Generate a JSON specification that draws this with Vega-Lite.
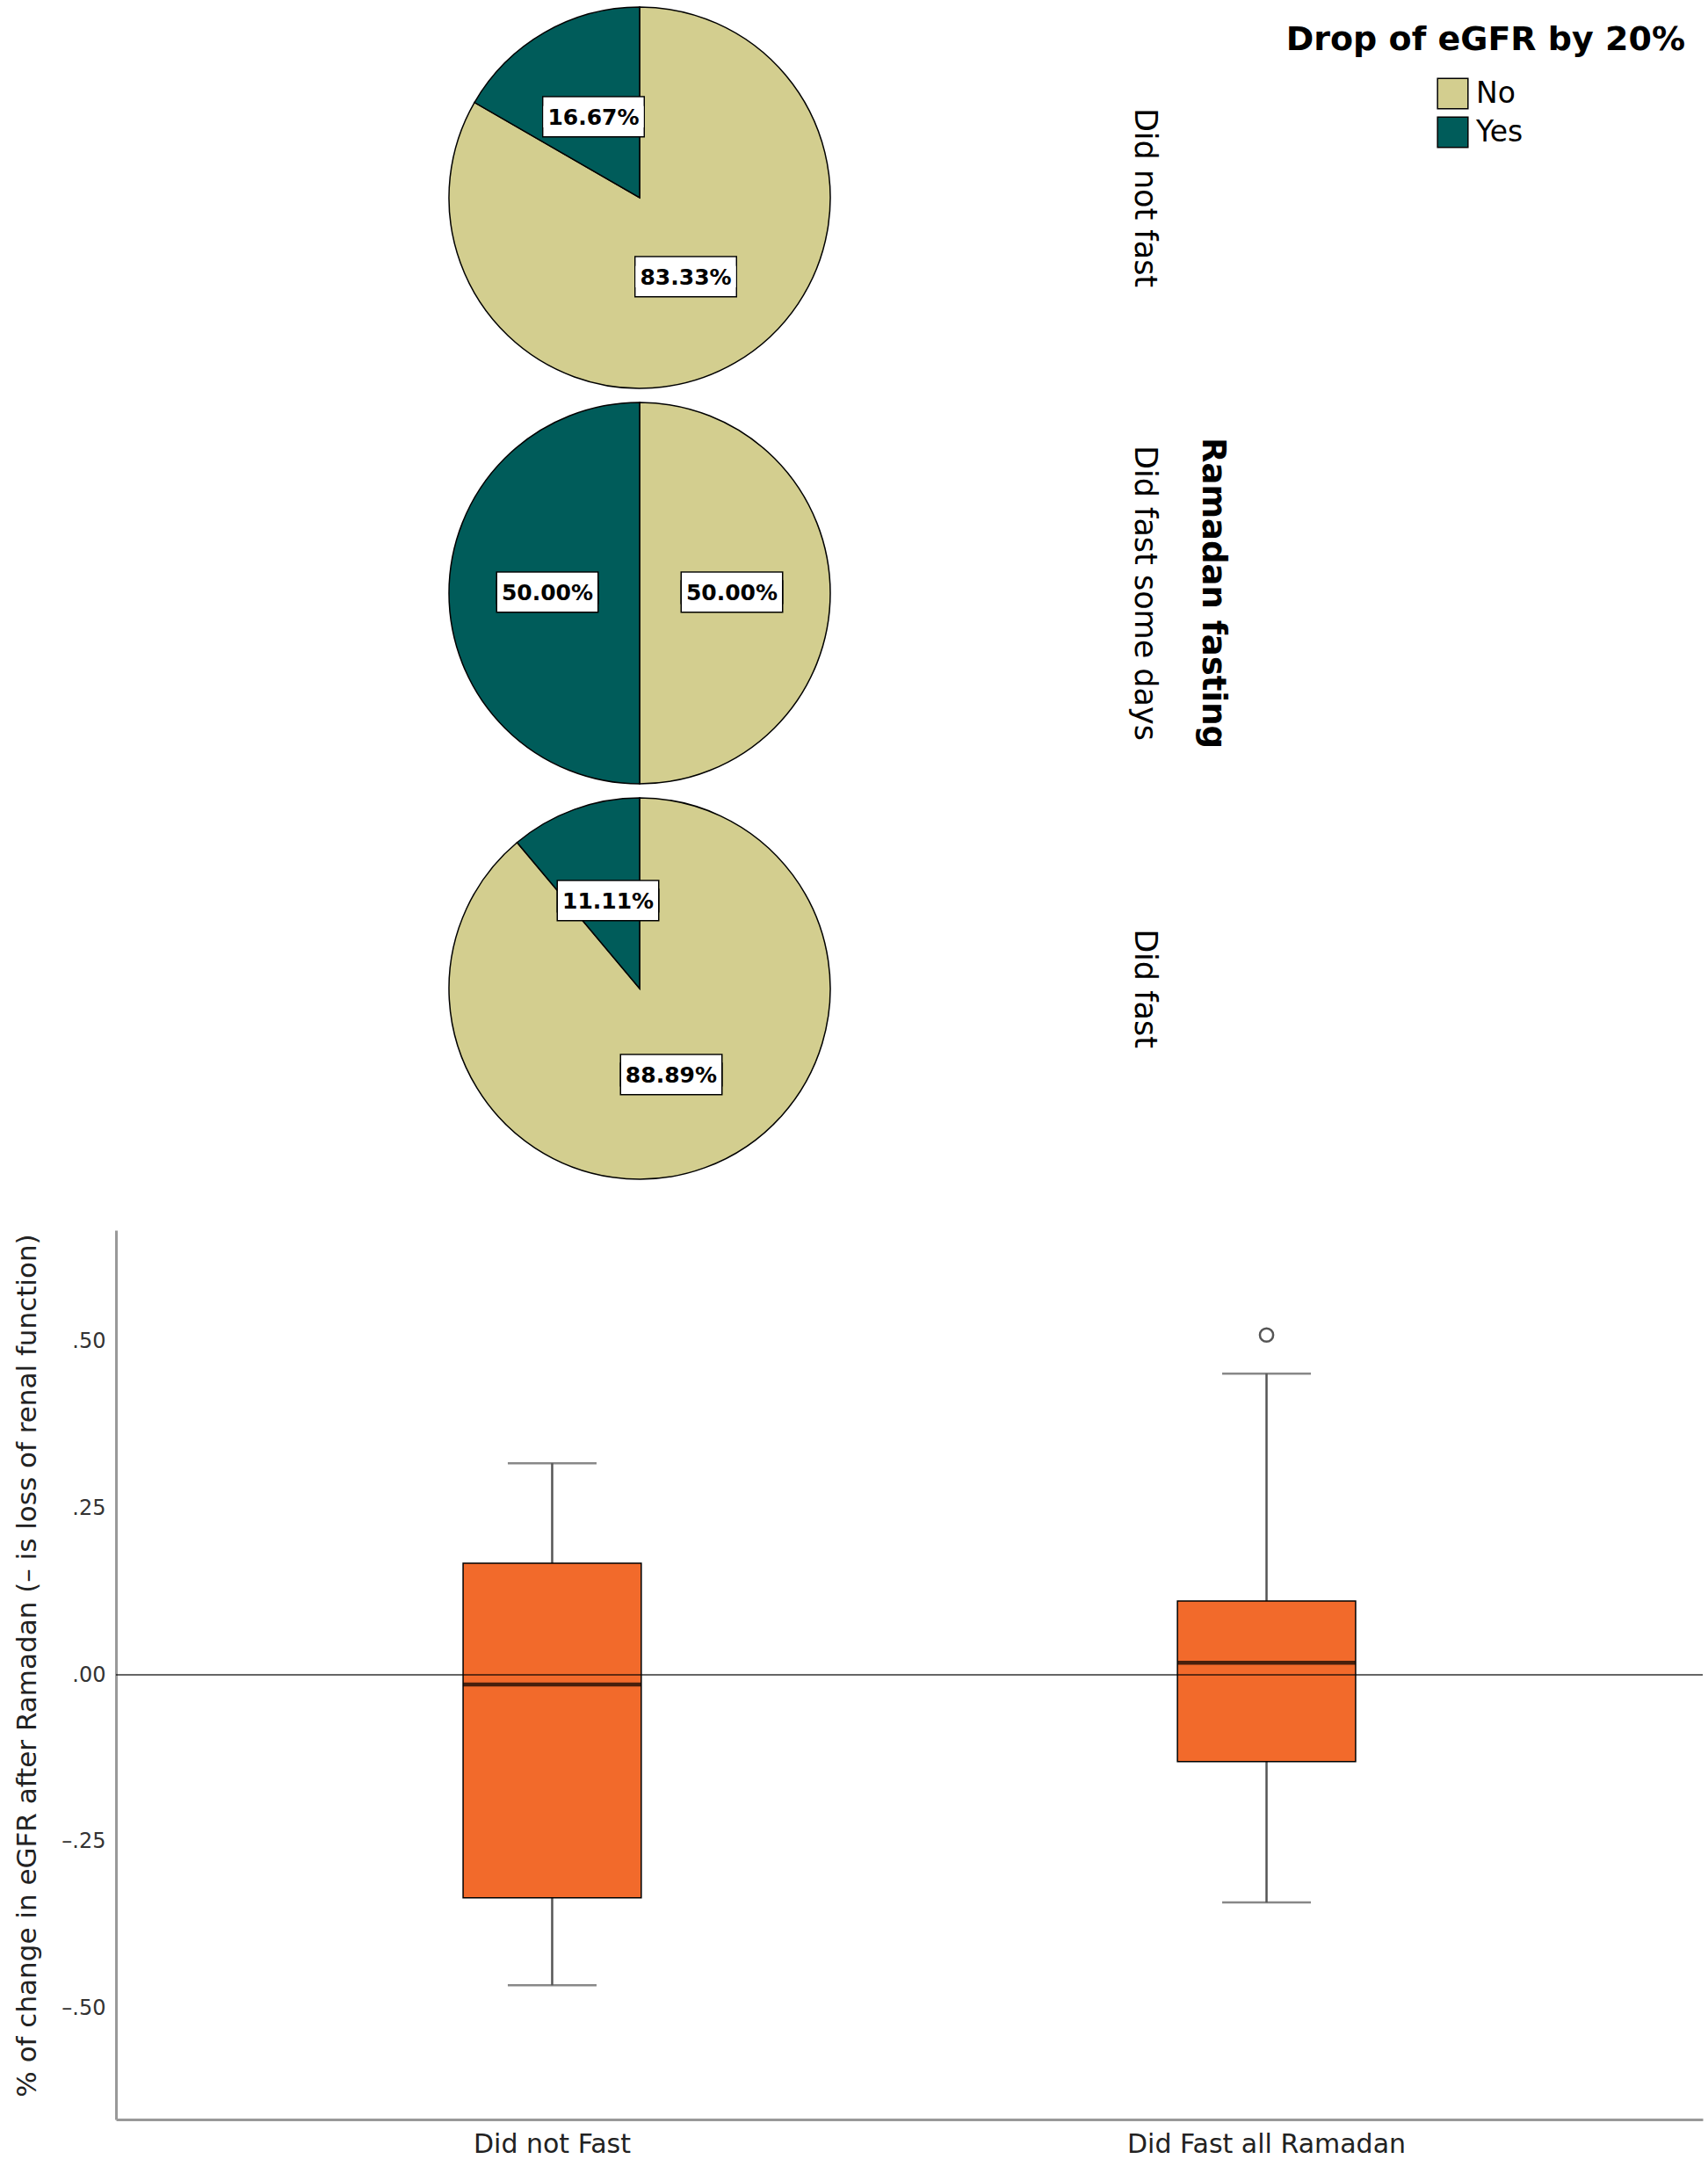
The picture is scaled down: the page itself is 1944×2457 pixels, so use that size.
{
  "$schema": "https://vega.github.io/schema/vega-lite/v6.json",
  "padding": {"left": 15, "top": 0, "right": 0, "bottom": 0},
  "autosize": {"type": "pad"},
  "background": "white",
  "title": {"text": "Drop of eGFR by 20%", "anchor": "end", "orient": "top", "offset": -65, "dx": -21, "font": "DejaVu Sans", "fontSize": 38, "fontWeight": "bold", "color": "black", "baseline": "top"},
  "datasets": {
    "pies": [
      {"fasting": "Did not fast", "drop": "No", "frac": 0.8333},
      {"fasting": "Did not fast", "drop": "Yes", "frac": 0.1667},
      {"fasting": "Did fast some days", "drop": "No", "frac": 0.5},
      {"fasting": "Did fast some days", "drop": "Yes", "frac": 0.5},
      {"fasting": "Did fast", "drop": "No", "frac": 0.8889},
      {"fasting": "Did fast", "drop": "Yes", "frac": 0.1111}
    ],
    "boxes": [
      {"group": "Did not Fast", "lower": -0.465, "q1": -0.334, "median": -0.0145, "q3": 0.167, "upper": 0.317},
      {"group": "Did Fast all Ramadan", "lower": -0.341, "q1": -0.130, "median": 0.018, "q3": 0.1105, "upper": 0.451}
    ],
    "outliers": [
      {"group": "Did Fast all Ramadan", "value": 0.509}
    ]
  },
  "vconcat": [
    {
      "data": {"name": "pies"},
      "facet": {
        "row": {
          "field": "fasting", "type": "nominal",
          "sort": ["Did not fast", "Did fast some days", "Did fast"],
          "title": "Ramadan fasting",
          "header": {
            "labelOrient": "right", "labelAngle": 90, "labelAlign": "center", "labelBaseline": "middle",
            "labelPadding": -56, "labelFont": "DejaVu Sans", "labelFontSize": 35, "labelColor": "black",
            "titleOrient": "right", "titleAngle": 90, "titleAlign": "center", "titleBaseline": "middle",
            "titlePadding": 9, "titleFont": "DejaVu Sans", "titleFontSize": 37, "titleFontWeight": "bold", "titleColor": "black"
          }
        }
      },
      "spacing": {"row": 0},
      "spec": {
        "width": 1192,
        "height": 450,
        "encoding": {
          "theta": {"field": "frac", "type": "quantitative", "stack": true},
          "order": {"field": "drop", "type": "ordinal", "sort": "ascending"}
        },
        "layer": [
          {
            "mark": {"type": "arc", "outerRadius": 217, "stroke": "black", "strokeWidth": 1.5},
            "encoding": {
              "color": {
                "field": "drop", "type": "nominal",
                "scale": {"domain": ["No", "Yes"], "range": ["#D3CE8F", "#005C5A"]},
                "legend": {
                  "title": null, "orient": "none", "legendX": 1503, "legendY": 88,
                  "symbolType": "square", "symbolSize": 1200, "symbolStrokeColor": "black", "symbolStrokeWidth": 1.5,
                  "labelFont": "DejaVu Sans", "labelFontSize": 33, "labelColor": "black", "labelOffset": 8,
                  "rowPadding": 3, "padding": 0
                }
              }
            }
          },
          {
            "mark": {"type": "text", "radius": 105, "text": "▬", "font": "Liberation Sans", "fontSize": 114, "fill": "white", "stroke": "black", "strokeWidth": 3, "align": "center", "baseline": "middle", "dy": -23},
            "encoding": {"detail": {"field": "drop"}}
          },
          {
            "mark": {"type": "text", "radius": 105, "text": "▬", "font": "Liberation Sans", "fontSize": 114, "fill": "white", "stroke": "black", "strokeWidth": 3, "align": "center", "baseline": "middle", "dy": -13},
            "encoding": {"detail": {"field": "drop"}}
          },
          {
            "mark": {"type": "text", "radius": 105, "text": "▬", "font": "Liberation Sans", "fontSize": 114, "fill": "white", "strokeWidth": 0, "align": "center", "baseline": "middle", "dy": -23},
            "encoding": {"detail": {"field": "drop"}}
          },
          {
            "mark": {"type": "text", "radius": 105, "text": "▬", "font": "Liberation Sans", "fontSize": 114, "fill": "white", "strokeWidth": 0, "align": "center", "baseline": "middle", "dy": -13},
            "encoding": {"detail": {"field": "drop"}}
          },
          {
            "mark": {"type": "text", "radius": 105, "font": "DejaVu Sans", "fontSize": 25, "fontWeight": "bold", "color": "black", "align": "center", "baseline": "middle"},
            "encoding": {"text": {"field": "frac", "type": "quantitative", "format": ".2%"}, "detail": {"field": "drop"}}
          }
        ]
      }
    },
    {
      "width": 1806,
      "height": 1012,
      "layer": [
        {
          "data": {"name": "boxes"},
          "mark": {"type": "rule", "color": "#555555", "strokeWidth": 2.5},
          "encoding": {
            "x": {"field": "group", "type": "nominal", "sort": ["Did not Fast", "Did Fast all Ramadan"], "scale": {"paddingInner": 0.7506, "paddingOuter": 0.4859},
                  "title": null,
                  "axis": {"labelAngle": 0, "labelLimit": 0, "ticks": false, "domainColor": "#999999", "domainWidth": 3, "labelFont": "DejaVu Sans", "labelFontSize": 30, "labelColor": "#222222", "labelPadding": 13}},
            "y": {"field": "lower", "type": "quantitative", "scale": {"domain": [-0.666, 0.666], "nice": false, "zero": false},
                  "title": "% of change in eGFR after Ramadan (– is loss of renal function)",
                  "axis": {"values": [-0.5, -0.25, 0, 0.25, 0.5], "labelExpr": "replace(replace(format(datum.value, '.2f'), '0.', '.'), '−', '–')",
                           "ticks": false, "grid": false, "domainColor": "#999999", "domainWidth": 3,
                           "labelFont": "DejaVu Sans", "labelFontSize": 24, "labelColor": "#333333", "labelPadding": 12,
                           "titleFont": "DejaVu Sans", "titleFontSize": 31, "titleFontWeight": "normal", "titleColor": "#222222", "titlePadding": 22, "titleY": 495}},
            "y2": {"field": "q1"}
          }
        },
        {
          "data": {"name": "boxes"},
          "mark": {"type": "rule", "color": "#555555", "strokeWidth": 2.5},
          "encoding": {
            "x": {"field": "group", "type": "nominal", "sort": ["Did not Fast", "Did Fast all Ramadan"], "title": null},
            "y": {"field": "q3", "type": "quantitative", "title": "% of change in eGFR after Ramadan (– is loss of renal function)"},
            "y2": {"field": "upper"}
          }
        },
        {
          "data": {"name": "boxes"},
          "mark": {"type": "tick", "size": 101, "thickness": 2.5, "color": "#555555"},
          "encoding": {
            "x": {"field": "group", "type": "nominal", "sort": ["Did not Fast", "Did Fast all Ramadan"], "title": null},
            "y": {"field": "lower", "type": "quantitative", "title": "% of change in eGFR after Ramadan (– is loss of renal function)"}
          }
        },
        {
          "data": {"name": "boxes"},
          "mark": {"type": "tick", "size": 101, "thickness": 2.5, "color": "#555555"},
          "encoding": {
            "x": {"field": "group", "type": "nominal", "sort": ["Did not Fast", "Did Fast all Ramadan"], "title": null},
            "y": {"field": "upper", "type": "quantitative", "title": "% of change in eGFR after Ramadan (– is loss of renal function)"}
          }
        },
        {
          "data": {"name": "boxes"},
          "mark": {"type": "bar", "fill": "#F26A2B", "stroke": "black", "strokeWidth": 1.5},
          "encoding": {
            "x": {"field": "group", "type": "nominal", "sort": ["Did not Fast", "Did Fast all Ramadan"], "title": null},
            "y": {"field": "q1", "type": "quantitative", "title": "% of change in eGFR after Ramadan (– is loss of renal function)"},
            "y2": {"field": "q3"}
          }
        },
        {
          "data": {"values": [{"ref": 0}]},
          "mark": {"type": "rule", "color": "black", "opacity": 0.6, "strokeWidth": 2},
          "encoding": {
            "y": {"field": "ref", "type": "quantitative", "title": "% of change in eGFR after Ramadan (– is loss of renal function)"}
          }
        },
        {
          "data": {"name": "boxes"},
          "mark": {"type": "tick", "size": 203, "thickness": 4.5, "color": "black"},
          "encoding": {
            "x": {"field": "group", "type": "nominal", "sort": ["Did not Fast", "Did Fast all Ramadan"], "title": null},
            "y": {"field": "median", "type": "quantitative", "title": "% of change in eGFR after Ramadan (– is loss of renal function)"}
          }
        },
        {
          "data": {"name": "outliers"},
          "mark": {"type": "point", "shape": "circle", "filled": false, "size": 230, "stroke": "#555555", "strokeWidth": 2.5, "opacity": 1},
          "encoding": {
            "x": {"field": "group", "type": "nominal", "sort": ["Did not Fast", "Did Fast all Ramadan"], "title": null},
            "y": {"field": "value", "type": "quantitative", "title": "% of change in eGFR after Ramadan (– is loss of renal function)"}
          }
        }
      ]
    }
  ],
  "spacing": 50,
  "config": {
    "view": {"stroke": null},
    "font": "DejaVu Sans"
  }
}
